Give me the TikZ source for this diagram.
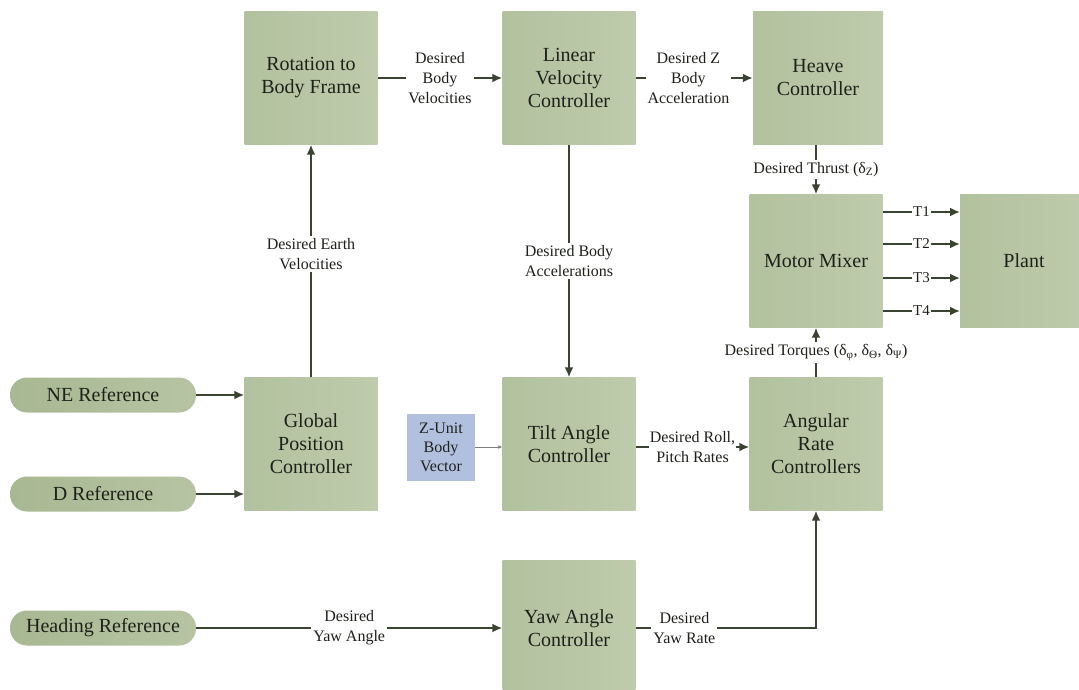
\documentclass[tikz,border=0pt]{standalone}
\usepackage{fontspec}
\setmainfont{Liberation Serif}
\newfontfamily\tnr{Liberation Serif}
\usetikzlibrary{arrows.meta}
\definecolor{boxg}{RGB}{178,193,158}
\definecolor{boxgl}{RGB}{190,203,172}
\definecolor{pillg}{RGB}{168,184,146}
\definecolor{pillgl}{RGB}{182,196,163}
\definecolor{zblue}{RGB}{178,192,224}
\definecolor{linec}{RGB}{58,66,48}
\definecolor{txtc}{RGB}{30,33,26}
\tikzset{
  blk/.style={shade, left color=boxg, right color=boxgl, draw=none, minimum width=133pt, minimum height=133pt, inner sep=0pt, align=center, text=txtc, font=\tnr\fontsize{20}{23}\selectfont},
  pill/.style={shade, left color=pillg, right color=pillgl, draw=none, rounded corners=17pt, minimum width=186pt, minimum height=35pt, inner sep=0pt, text=txtc, font=\tnr\fontsize{20}{23}\selectfont},
  zbox/.style={fill=zblue, draw=none, minimum width=68pt, minimum height=67pt, inner sep=0pt, align=center, text=txtc, font=\tnr\fontsize{16}{19}\selectfont},
  conn/.style={draw=linec, line width=2.4pt, -{Latex[length=10pt,width=9pt]}},
  thin/.style={draw=gray, line width=0.8pt, -{Latex[length=4pt,width=4pt]}},
  lbl/.style={fill=white, inner sep=2pt, align=center, text=txtc, font=\tnr\fontsize{16}{20}\selectfont},
  tl/.style={fill=white, inner sep=1pt, text=txtc, font=\tnr\fontsize{15}{18}\selectfont}
}
\begin{document}
\begin{tikzpicture}[x=1pt,y=-1pt]
\clip (0,0) rectangle (1079,689);
\fill[white] (0,0) rectangle (1079,689);
% blocks
\node[blk] (rot) at (311,78) {Rotation to\\Body Frame};
\node[blk] (lin) at (569,78) {Linear\\Velocity\\Controller};
\node[blk, minimum width=130pt] (heave) at (818,78) {Heave\\Controller};
\node[blk] (mix) at (816,261) {Motor Mixer};
\node[blk, minimum width=128pt] (plant) at (1024,261) {Plant};
\node[blk] (gpc) at (311,444) {Global\\Position\\Controller};
\node[blk] (tilt) at (569,444) {Tilt Angle\\Controller};
\node[blk] (ang) at (816,444) {Angular\\Rate\\Controllers};
\node[blk, minimum height=136pt] (yaw) at (569,628) {Yaw Angle\\Controller};
\node[zbox] (zu) at (441,447) {Z-Unit\\Body\\Vector};
% references
\node[pill] (ne) at (103,395) {NE Reference};
\node[pill] (dr) at (103,494) {D Reference};
\node[pill] (hd) at (103,628) {Heading Reference};
% connectors
\draw[conn] (ne.east) -- (gpc.west |- ne.east);
\draw[conn] (dr.east) -- (gpc.west |- dr.east);
\draw[conn] (gpc.north) -- node[lbl, pos=0.53] {Desired Earth\\Velocities} (rot.south);
\draw[conn] (rot.east) -- node[lbl] {Desired\\Body\\Velocities} (lin.west);
\draw[conn] (lin.east) -- node[lbl, pos=0.45] {Desired Z\\Body\\Acceleration} (heave.west);
\draw[conn] (lin.south) -- node[lbl] {Desired Body\\Accelerations} (tilt.north);
\draw[conn] (heave.south -| mix.north) -- node[lbl] {Desired Thrust (δ\textsubscript{Z})} (mix.north);
\draw[conn] (ang.north) -- node[lbl] {Desired Torques (δ\textsubscript{φ}, δ\textsubscript{Θ}, δ\textsubscript{Ψ})} (mix.south);
\draw[thin] (zu.east) -- (tilt.west |- zu.east);
\draw[conn] (tilt.east |- zu.east) -- node[lbl, inner sep=1pt] {Desired Roll,\\Pitch Rates} (ang.west |- zu.east);
\draw[conn] (hd.east) -- node[lbl] {Desired\\Yaw Angle} (yaw.west |- hd.east);
\coordinate (yc) at (816,628);
\draw[conn] (yaw.east |- yc) -- node[lbl, pos=0.27] {Desired\\Yaw Rate} (yc) -- (ang.south);
% motor outputs
\foreach \i/\yy in {1/212,2/244,3/278,4/311}{
  \coordinate (mo\i) at (883,\yy);
  \coordinate (pi\i) at (960,\yy);
  \draw[conn] (mo\i) -- node[tl] {T\i} (pi\i);
}
\end{tikzpicture}
\end{document}
